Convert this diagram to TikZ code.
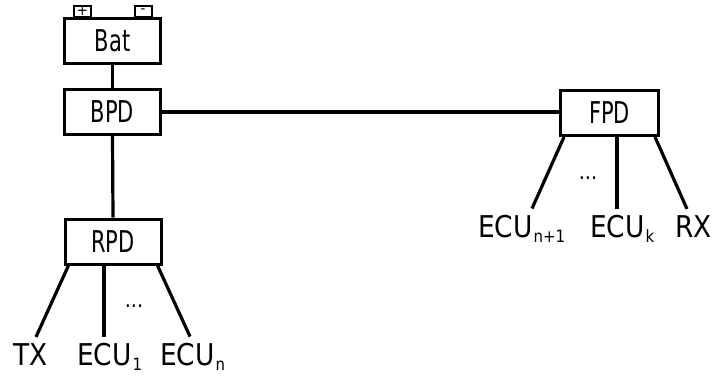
\documentclass[tikz,border=0pt]{standalone}
\usepackage{fontspec}
\setmainfont{DejaVu Sans}[FakeStretch=0.88]
\newfontfamily\boxfont{DejaVu Sans}[FakeStretch=0.7]
\usetikzlibrary{calc}

% small lowered index used in the ECU labels
\newcommand{\idx}[1]{\kern1pt\raisebox{-5pt}{\fontsize{17}{17}\selectfont #1}}

\begin{document}
\begin{tikzpicture}[x=1pt,y=-1pt,
  unit/.style={draw,line width=3pt,minimum width=96pt,minimum height=45pt,
    inner sep=0pt,font=\boxfont\fontsize{30}{30}\selectfont},
  pole/.style={draw,line width=2pt,minimum width=17pt,minimum height=11pt,
    inner sep=0pt,font=\fontsize{15}{15}\selectfont},
  tag/.style={anchor=base west,inner xsep=0pt,inner ysep=6pt,
    font=\fontsize{30}{30}\selectfont},
  wire/.style={line width=3.2pt},
  dots/.style={inner sep=0pt,font=\fontsize{22}{22}\selectfont}]

\useasboundingbox (0,0) rectangle (712,376);

% power distribution boxes
\node[unit] (bat) at (112.5,41) {Bat};
\node[unit] (bpd) at (112.5,112) {BPD};
\node[unit] (rpd) at (113,241.5) {RPD};
\node[unit,minimum width=98pt] (fpd) at (609.5,113) {FPD};

% battery terminals
\node[pole] (plus) at (82.5,11) {+};
\node[pole] (minus) at (143,11) {-};

% consumers
\node[tag] (tx) at (13,365) {TX};
\node[tag] (ecua) at (77,365) {ECU\idx{1}};
\node[tag] (ecun) at (160,365) {ECU\idx{n}};
\node[tag] (ecunp) at (478,237) {ECU\idx{n+1}};
\node[tag] (ecuk) at (590,237) {ECU\idx{k}};
\node[tag] (rx) at (675,237) {RX};

\node[dots] (rdots) at (134,306) {...};
\node[dots] (fdots) at (588,178) {...};

% backbone
\draw[wire] (bat.south) -- (bpd.north);
\draw[wire] (bpd.south) -- (rpd.north);
\draw[wire] (bpd.east) -- (fpd.west |- bpd.east);

% rear branches
\draw[wire] ($(rpd.south west)+(5,0)$) -- ($(tx.north west)+(23,0)$);
\draw[wire] ($(rpd.south)+(-9,0)$) -- ($(ecua.north west)+(27,0)$);
\draw[wire] ($(rpd.south east)+(-5,0)$) -- ($(ecun.north west)+(30,0)$);

% front branches
\draw[wire] ($(fpd.south west)+(5,0)$) -- ($(ecunp.north west)+(54,0)$);
\draw[wire] ($(fpd.south)+(7.5,0)$) -- ($(ecuk.north west)+(27,0)$);
\draw[wire] ($(fpd.south east)+(-5,0)$) -- ($(rx.north west)+(12,0)$);
\end{tikzpicture}
\end{document}
